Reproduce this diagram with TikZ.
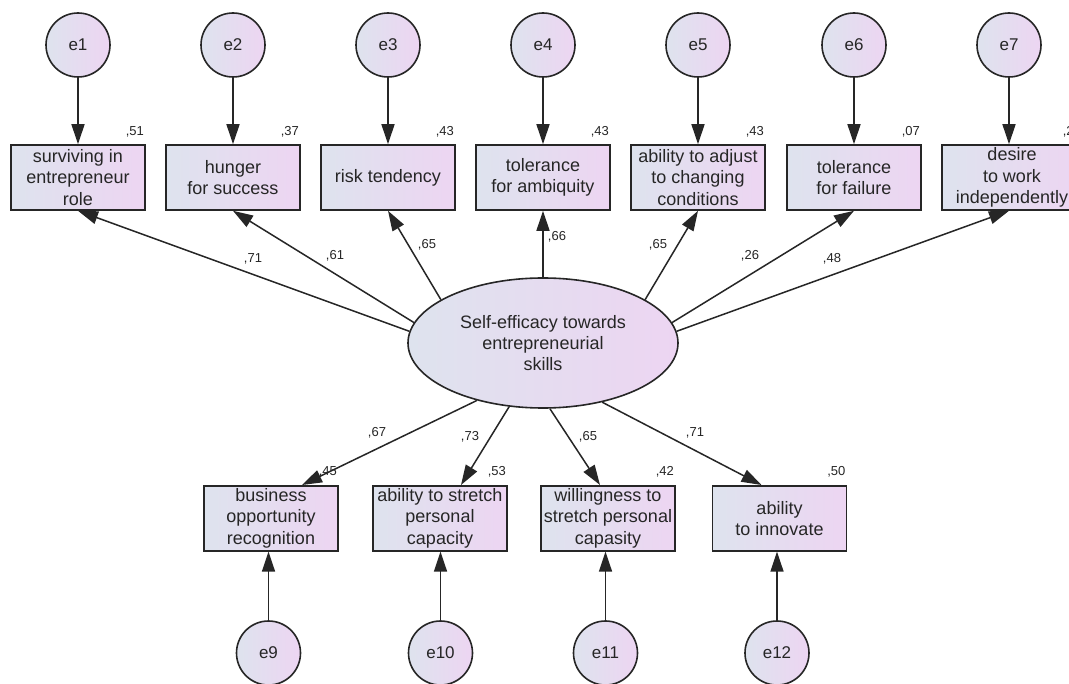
\documentclass[tikz,border=0pt]{standalone}
\usepackage{fontspec}
\setmainfont{Liberation Sans}
\usetikzlibrary{arrows.meta,shapes.geometric,calc}
\definecolor{lc}{HTML}{DEE3EE}
\definecolor{rc}{HTML}{EDD5F2}
\definecolor{ln}{HTML}{262626}
\tikzset{
  obs/.style={draw=ln, line width=1.6pt, left color=lc, right color=rc,
    minimum width=134pt, minimum height=65pt, inner sep=0pt, align=center,
    font=\fontsize{18}{21.3}\selectfont, text=ln},
  err/.style={circle, draw=ln, line width=1.6pt, left color=lc, right color=rc,
    minimum size=64pt, inner sep=0pt, font=\fontsize{17}{20}\selectfont, text=ln},
  lat/.style={ellipse, draw=ln, line width=1.6pt, left color=lc, right color=rc,
    minimum width=270pt, minimum height=130pt, inner sep=0pt, align=center,
    font=\fontsize{18}{21.3}\selectfont, text=ln},
  pth/.style={line width=1.5pt, draw=ln, -{Triangle[length=20pt,width=13pt]}},
  coef/.style={font=\fontsize{13}{15}\selectfont, inner sep=0pt, text=ln},
}
\begin{document}
\begin{tikzpicture}[x=1pt,y=-1pt]
\fill[white] (0,0) rectangle (1069,684);
\useasboundingbox (0,0) rectangle (1069,684);

% latent variable
\node[lat] (F) at (543,343) {Self-efficacy towards\\entrepreneurial\\skills};

% top observed variables
\node[obs] (b1) at (78,177.5) {surviving in\\entrepreneur\\role};
\node[obs] (b2) at (233,177.5) {hunger\\for success};
\node[obs] (b3) at (388,177.5) {risk tendency};
\node[obs] (b4) at (543,177.5) {tolerance\\for ambiquity};
\node[obs] (b5) at (698,177.5) {ability to adjust\\to changing\\conditions};
\node[obs] (b6) at (854,177.5) {tolerance\\for failure};
\node[obs, minimum width=140pt] (b7) at (1012,177.5) {desire\\to work\\independently};

% top errors
\node[err] (e1) at (78,45) {e1};
\node[err] (e2) at (233,45) {e2};
\node[err] (e3) at (388,45) {e3};
\node[err] (e4) at (543,45) {e4};
\node[err] (e5) at (698,45) {e5};
\node[err] (e6) at (854,45) {e6};
\node[err] (e7) at (1009,45) {e7};

% bottom observed variables
\node[obs] (b9) at (271,518.3) {business\\opportunity\\recognition};
\node[obs] (b10) at (440,518.3) {ability to stretch\\personal\\capacity};
\node[obs] (b11) at (608,518.3) {willingness to\\stretch personal\\capasity};
\node[obs] (b12) at (779.5,518.3) {ability\\to innovate};

% bottom errors
\node[err] (e9) at (268.5,653) {e9};
\node[err] (e10) at (440.5,653) {e10};
\node[err] (e11) at (605.5,653) {e11};
\node[err] (e12) at (777,653) {e12};

% error arrows
\foreach \i in {1,...,7}{
  \draw[pth] (e\i) -- (e\i |- b\i.north);
}
\foreach \i in {9,...,12}{
  \draw[pth] (e\i) -- (e\i |- b\i.south);
}

% loadings top
\draw[pth] (F.175) -- (e1 |- b1.south);
\draw[pth] (F.171) -- (e2 |- b2.south);
\draw[pth] (F.157) -- (e3 |- b3.south);
\draw[pth] (F.90) -- (e4 |- b4.south);
\draw[pth] (F.23) -- (e5 |- b5.south);
\draw[pth] (F.9) -- (e6 |- b6.south);
\draw[pth] (F.5) -- (e7 |- b7.south);

% loadings bottom
\draw[pth] (F.221) -- ([xshift=31pt]b9.north);
\draw[pth] (F.242) -- ([xshift=21pt]b10.north);
\draw[pth] (F.276) -- ([xshift=-8pt]b11.north);
\draw[pth] (F.315) -- ([xshift=-18pt]b12.north);

% loading labels
\node[coef] (l1) at (253,259) {,71};
\node[coef] (l2) at (335,256) {,61};
\node[coef] (l3) at (427,245) {,65};
\node[coef] (l4) at (557,237) {,66};
\node[coef] (l5) at (658,245) {,65};
\node[coef] (l6) at (750,256) {,26};
\node[coef] (l7) at (832,259) {,48};
\node[coef] (l9) at (377,433) {,67};
\node[coef] (l10) at (470,437) {,73};
\node[coef] (l11) at (588,437) {,65};
\node[coef] (l12) at (695,433) {,71};

% squared multiple correlations
\node[coef] (r1) at ([xshift=-11pt,yshift=12pt]b1.north east) {,51};
\node[coef] (r2) at ([xshift=-11pt,yshift=12pt]b2.north east) {,37};
\node[coef] (r3) at ([xshift=-11pt,yshift=12pt]b3.north east) {,43};
\node[coef] (r4) at ([xshift=-11pt,yshift=12pt]b4.north east) {,43};
\node[coef] (r5) at ([xshift=-11pt,yshift=12pt]b5.north east) {,43};
\node[coef] (r6) at ([xshift=-11pt,yshift=12pt]b6.north east) {,07};
\node[coef] (r7) at ([xshift=-11pt,yshift=12pt]b7.north east) {,27};
\node[coef] (r9) at ([xshift=-11pt,yshift=13pt]b9.north east) {,45};
\node[coef] (r10) at ([xshift=-11pt,yshift=13pt]b10.north east) {,53};
\node[coef] (r11) at ([xshift=-11pt,yshift=13pt]b11.north east) {,42};
\node[coef] (r12) at ([xshift=-11pt,yshift=13pt]b12.north east) {,50};
\end{tikzpicture}
\end{document}
